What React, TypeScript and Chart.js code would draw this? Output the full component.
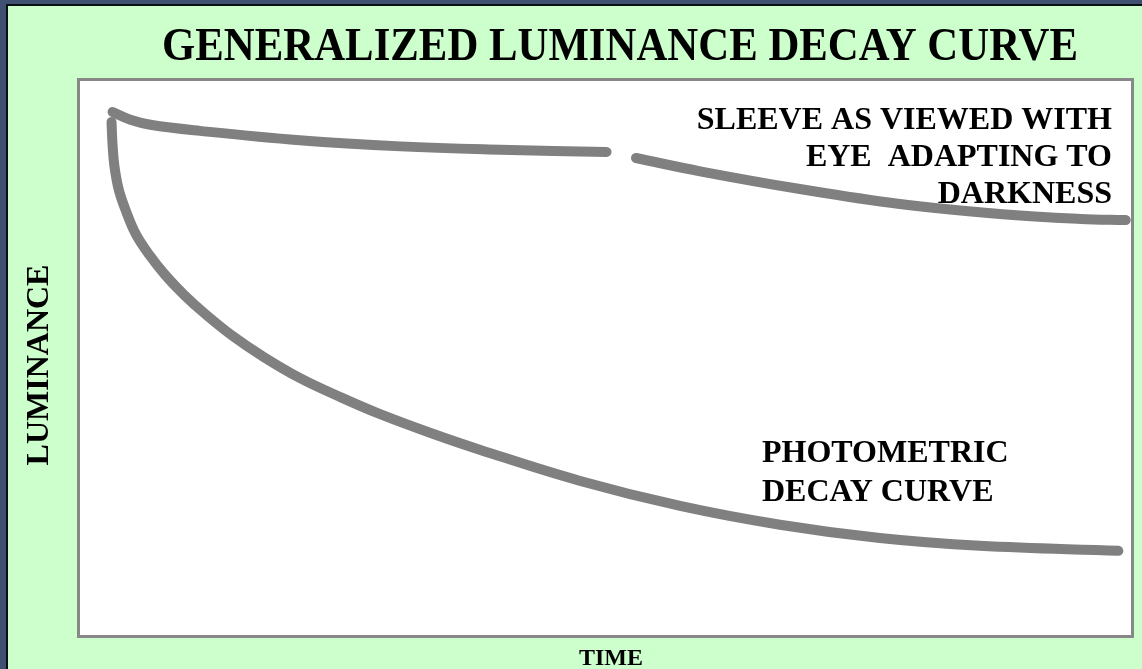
import React, { useEffect, useRef } from "react";
import { Chart, registerables } from "chart.js";

Chart.register(...registerables);

// Sleeve curve (eye adapting to darkness) — null marks the break in the line
const sleeveTime = [3.1, 4.8, 6.7, 11.4, 20.9, 30.5, 40.0, 50.1, 51.5, 52.9, 59.0, 68.5, 78.0, 87.5, 95.2, 99.5];
const sleeveLum = [94.4, 93.0, 92.1, 91.0, 89.3, 88.2, 87.6, 87.2, null, 86.1, 83.7, 80.5, 77.8, 76.0, 75.1, 74.9];

// Photometric decay curve
const photoTime = [3.0, 3.1, 3.3, 3.7, 4.4, 5.3, 6.6, 8.1, 9.9, 12.0, 14.5, 17.3, 20.9, 24.7, 28.5, 33.3, 38.1, 47.6, 57.1, 66.6, 76.1, 85.6, 98.8];
const photoLum = [92.6, 88.4, 84.3, 80.3, 76.4, 72.4, 68.6, 65.0, 61.4, 57.8, 54.0, 50.4, 46.4, 43.0, 39.9, 36.5, 33.4, 27.8, 23.3, 19.9, 17.5, 16.1, 15.2];

const titleText = "GENERALIZED LUMINANCE DECAY CURVE";
const yTitle = "LUMINANCE";
const xTitle = "TIME";
const sleeveLabel = ["SLEEVE AS VIEWED WITH", "EYE  ADAPTING TO", "DARKNESS"];
const photoLabel = ["PHOTOMETRIC", "DECAY CURVE"];

const FONT = '"Liberation Serif", "Times New Roman", serif';

const framePlugin = {
  id: "frame",
  beforeDraw(chart: any) {
    const { ctx, width, height, chartArea: a } = chart;
    ctx.save();
    ctx.fillStyle = "#3f5070";
    ctx.fillRect(0, 0, width, height);
    ctx.fillStyle = "#0a0f14";
    ctx.fillRect(6, 4, width - 6, height - 4);
    ctx.fillStyle = "#ccffcc";
    ctx.fillRect(8, 6, width - 8, height - 6);
    ctx.fillStyle = "#ffffff";
    ctx.fillRect(a.left, a.top, a.right - a.left, a.bottom - a.top);
    ctx.strokeStyle = "#888888";
    ctx.lineWidth = 3;
    ctx.strokeRect(a.left - 1.5, a.top - 1.5, a.right - a.left + 3, a.bottom - a.top + 3);
    ctx.restore();
  },
  afterDraw(chart: any) {
    const { ctx } = chart;
    ctx.save();
    ctx.fillStyle = "#000000";
    ctx.textBaseline = "alphabetic";
    // title
    ctx.font = `bold 47px ${FONT}`;
    ctx.textAlign = "center";
    ctx.fillText(titleText, 620, 60, 916);
    // annotations
    ctx.font = `bold 32px ${FONT}`;
    ctx.textAlign = "right";
    sleeveLabel.forEach((t, i) => ctx.fillText(t, 1112, 129 + i * 37));
    ctx.textAlign = "left";
    photoLabel.forEach((t, i) => ctx.fillText(t, 762, 462 + i * 39));
    // axis titles
    ctx.font = `bold 32px ${FONT}`;
    ctx.textAlign = "center";
    ctx.save();
    ctx.translate(48, 365);
    ctx.rotate(-Math.PI / 2);
    ctx.fillText(yTitle, 0, 0);
    ctx.restore();
    ctx.font = `bold 24px ${FONT}`;
    ctx.fillText(xTitle, 611, 665);
    ctx.restore();
  },
};

export default function App() {
  const ref = useRef<HTMLCanvasElement>(null);
  useEffect(() => {
    document.body.style.margin = "0";
    const common = {
      borderColor: "#808080",
      borderWidth: 10,
      borderCapStyle: "round",
      borderJoinStyle: "round",
      pointRadius: 0,
      tension: 0.4,
    };
    const chart = new Chart(ref.current!, {
      type: "line",
      data: {
        datasets: [
          { ...common, data: sleeveTime.map((x, i) => ({ x, y: sleeveLum[i] })), spanGaps: false },
          { ...common, data: photoTime.map((x, i) => ({ x, y: photoLum[i] })) },
        ],
      },
      options: {
        animation: false,
        responsive: false,
        layout: { padding: { left: 80, right: 11, top: 81, bottom: 34 } },
        plugins: { legend: { display: false }, tooltip: { enabled: false } },
        scales: {
          x: { type: "linear", min: 0, max: 100, display: false },
          y: { type: "linear", min: 0, max: 100, display: false },
        },
      },
      plugins: [framePlugin],
    } as any);
    return () => chart.destroy();
  }, []);
  return (
    <div style={{ width: 1142, height: 669 }}>
      <canvas ref={ref} width={1142} height={669} style={{ display: "block" }} />
    </div>
  );
}
